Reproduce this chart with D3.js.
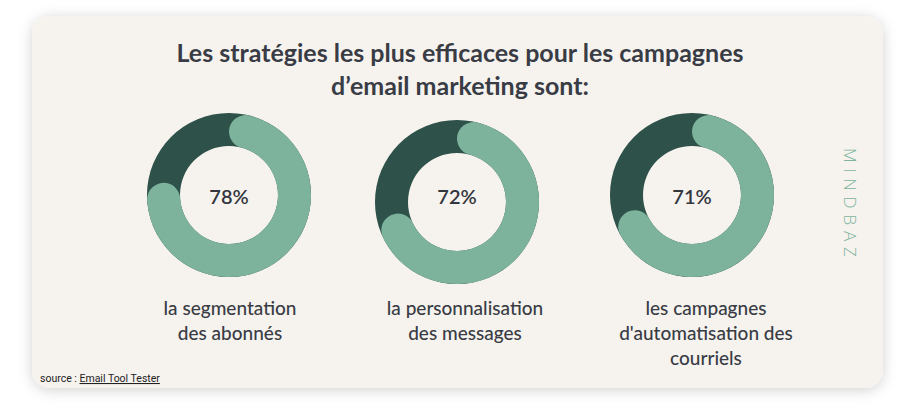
<!DOCTYPE html>
<html><head><meta charset="utf-8">
<script src="https://cdn.jsdelivr.net/npm/d3@7"></script>
<style>
html,body{margin:0;padding:0;background:#fff;}
svg{display:block;}
</style></head>
<body>
<svg id="c" width="917" height="413"></svg>
<script>
const titleLines = ["Les stratégies les plus efficaces pour les campagnes", "d’email marketing sont:"];
const values = [78, 72, 71];
const valueLabels = ["78%", "72%", "71%"];
const categories = [
  ["la segmentation", "des abonnés"],
  ["la personnalisation", "des messages"],
  ["les campagnes", "d'automatisation des", "courriels"]
];
const sourcePrefix = "source : ";
const sourceName = "Email Tool Tester";
const brand = "MINDBAZ";

const W = 917, H = 413;
const svg = d3.select("#c");
const defs = svg.append("defs");
const f = defs.append("filter").attr("id","sh").attr("x","-10%").attr("y","-10%").attr("width","120%").attr("height","125%");
f.append("feDropShadow").attr("dx",0).attr("dy",2).attr("stdDeviation",7).attr("flood-color","#000").attr("flood-opacity",0.18);

svg.append("rect").attr("x",32).attr("y",16).attr("width",851).attr("height",372).attr("rx",18)
  .attr("fill","#f6f3ef").attr("filter","url(#sh)");

const textColor = "#393c44";
const fontT = "Lato, 'Open Sans', sans-serif";

svg.selectAll("text.title").data(titleLines).join("text").attr("class","title")
  .attr("x", 460).attr("y",(d,i)=>62 + i*33)
  .attr("text-anchor","middle").attr("font-family",fontT).attr("font-weight",700)
  .attr("font-size",25).attr("fill",textColor).text(d=>d);

const angle = d3.scaleLinear().domain([0,100]).range([0, 2*Math.PI]);
const cxs = [229, 457, 692];
const cys = [195, 202, 195];
const rOuter = 82, rInner = 49;

const ring = d3.arc().innerRadius(rInner).outerRadius(rOuter);
const arcFg = d3.arc().innerRadius(rInner).outerRadius(rOuter).cornerRadius((rOuter-rInner)/2);

const g = svg.selectAll("g.donut").data(values).join("g").attr("class","donut")
  .attr("transform",(d,i)=>`translate(${cxs[i]},${cys[i]})`);
g.append("path").attr("d", ring({startAngle:0,endAngle:angle(100)})).attr("fill","#2e5249");
g.append("path").attr("d", d=>arcFg({startAngle:angle(0),endAngle:angle(d)})).attr("fill","#7db39c");

svg.selectAll("text.pct").data(valueLabels).join("text").attr("class","pct")
  .attr("x",(d,i)=>cxs[i]).attr("y",204)
  .attr("text-anchor","middle").attr("font-family",fontT).attr("font-weight",600)
  .attr("font-size",20).attr("fill","#33363d").text(d=>d);

const lblX = [230, 465, 706];
categories.forEach((lines,i)=>{
  svg.append("g").selectAll("text").data(lines).join("text")
    .attr("x",lblX[i]).attr("y",(d,j)=>315 + j*25)
    .attr("text-anchor","middle").attr("font-family",fontT).attr("font-weight",500)
    .attr("font-size",19).attr("fill",textColor).text(d=>d);
});

const src = svg.append("text").attr("x",40).attr("y",382).attr("font-family","Roboto, 'Open Sans', sans-serif")
  .attr("font-size",10.5).attr("fill","#222");
src.append("tspan").text(sourcePrefix);
src.append("tspan").attr("text-decoration","underline").text(sourceName);

svg.append("text").attr("transform","translate(844,148) rotate(90)")
  .attr("font-family","'Open Sans', sans-serif").attr("font-weight",300).attr("font-size",17)
  .attr("letter-spacing",5.8).attr("fill","#7db39c").text(brand);
</script>
</body></html>
